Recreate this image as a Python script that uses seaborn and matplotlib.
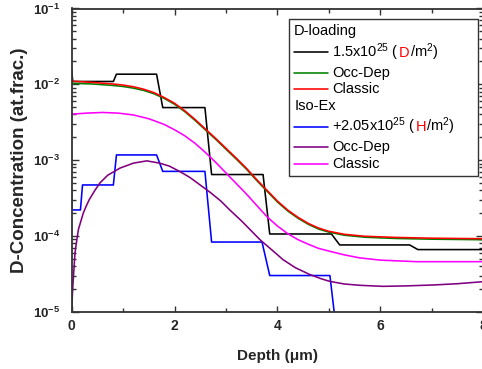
import numpy as np
import pandas as pd
import matplotlib
matplotlib.use("Agg")
import matplotlib.pyplot as plt
import seaborn as sns
from matplotlib.ticker import FixedLocator, LogLocator, NullFormatter, FixedFormatter
from matplotlib.offsetbox import AnchoredOffsetbox, VPacker, HPacker, TextArea, DrawingArea
from matplotlib.lines import Line2D

# ---------------- data ----------------
black_x = [0.0, 0.02, 0.81, 0.87, 1.65, 1.77, 2.59, 2.72, 3.72, 3.85, 5.05, 5.21, 6.57, 6.73, 8.0]
black_y = [1.55e-2, 1.09e-2, 1.09e-2, 1.36e-2, 1.36e-2, 4.93e-3, 4.93e-3, 6.45e-4, 6.45e-4,
           1.06e-4, 1.06e-4, 7.6e-5, 7.6e-5, 6.6e-5, 6.6e-5]

curve_x = [0.0, 0.4, 0.8, 1.0, 1.2, 1.4, 1.6, 1.8, 2.0, 2.2, 2.4, 2.6, 2.8, 3.0, 3.2, 3.4,
           3.6, 3.8, 4.0, 4.2, 4.4, 4.6, 4.8, 5.0, 5.3, 5.7, 6.3, 7.0, 8.0]
red_y = [1.10e-2, 1.06e-2, 1.01e-2, 9.77e-3, 9.29e-3, 8.61e-3, 7.76e-3, 6.68e-3, 5.62e-3,
         4.47e-3, 3.43e-3, 2.57e-3, 1.93e-3, 1.43e-3, 1.06e-3, 7.76e-4, 5.50e-4, 3.98e-4,
         2.88e-4, 2.19e-4, 1.76e-4, 1.46e-4, 1.27e-4, 1.15e-4, 1.05e-4, 9.89e-5, 9.55e-5,
         9.33e-5, 9.18e-5]
green_y = [1.03e-2, 1.01e-2, 9.65e-3, 9.35e-3, 8.9e-3, 8.3e-3, 7.5e-3, 6.5e-3, 5.45e-3,
           4.35e-3, 3.33e-3, 2.5e-3, 1.88e-3, 1.39e-3, 1.03e-3, 7.55e-4, 5.35e-4, 3.87e-4,
           2.8e-4, 2.13e-4, 1.71e-4, 1.42e-4, 1.23e-4, 1.12e-4, 1.02e-4, 9.6e-5, 9.25e-5,
           9.05e-5, 8.9e-5]

blue_x = [0.0, 0.0, 0.17, 0.21, 0.81, 0.87, 1.65, 1.77, 2.59, 2.72, 3.70, 3.85, 5.02, 5.11]
blue_y = [3.9e-4, 2.2e-4, 2.2e-4, 4.7e-4, 4.7e-4, 1.17e-3, 1.17e-3, 7.1e-4, 7.1e-4, 8.3e-5,
          8.3e-5, 3.0e-5, 3.0e-5, 9.0e-6]

purple_x = [0.0, 0.015, 0.03, 0.064, 0.1, 0.13, 0.18, 0.225, 0.28, 0.34, 0.45, 0.55, 0.7,
            0.94, 1.2, 1.46, 1.71, 1.9, 2.1, 2.3, 2.5, 2.7, 2.9, 3.07, 3.3, 3.5, 3.66, 3.9,
            4.11, 4.35, 4.63, 4.85, 5.02, 5.3, 5.6, 6.05, 6.5, 7.02, 7.5, 8.0]
purple_y = [1.0e-5, 1.78e-5, 2.65e-5, 5.96e-5, 8.91e-5, 1.21e-4, 1.58e-4, 2.0e-4, 2.45e-4,
            3.0e-4, 3.98e-4, 5.01e-4, 6.31e-4, 7.85e-4, 9.12e-4, 9.77e-4, 9.12e-4, 8.32e-4,
            7.08e-4, 5.89e-4, 4.68e-4, 3.72e-4, 2.88e-4, 2.21e-4, 1.58e-4, 1.15e-4, 8.91e-5,
            6.46e-5, 4.85e-5, 3.80e-5, 3.09e-5, 2.72e-5, 2.51e-5, 2.32e-5, 2.23e-5, 2.16e-5,
            2.19e-5, 2.25e-5, 2.34e-5, 2.49e-5]

magenta_x = [0.0, 0.3, 0.6, 0.9, 1.2, 1.5, 1.8, 2.0, 2.2, 2.4, 2.6, 2.8, 3.0, 3.2, 3.4, 3.6,
             3.8, 4.0, 4.2, 4.4, 4.6, 4.8, 5.0, 5.3, 5.6, 6.0, 6.7, 8.0]
magenta_y = [4.04e-3, 4.17e-3, 4.25e-3, 4.17e-3, 3.94e-3, 3.51e-3, 2.95e-3, 2.51e-3, 2.09e-3,
             1.66e-3, 1.26e-3, 9.33e-4, 6.76e-4, 4.90e-4, 3.55e-4, 2.51e-4, 1.78e-4, 1.35e-4,
             1.07e-4, 8.91e-5, 7.76e-5, 6.84e-5, 6.31e-5, 5.62e-5, 5.13e-5, 4.79e-5, 4.57e-5,
             4.57e-5]

x_ticks = [0, 2, 4, 6, 8]
x_ticklabels = ["0", "2", "4", "6", "8"]
y_ticks = [1e-5, 1e-4, 1e-3, 1e-2, 1e-1]
y_ticklabels = [r"$\mathbf{10^{-5}}$", r"$\mathbf{10^{-4}}$", r"$\mathbf{10^{-3}}$",
                r"$\mathbf{10^{-2}}$", r"$\mathbf{10^{-1}}$"]

# ---------------- style ----------------
sns.set_theme(style="ticks")
plt.rcParams["font.family"] = ["Liberation Sans", "DejaVu Sans"]
plt.rcParams["mathtext.fontset"] = "custom"
plt.rcParams["mathtext.rm"] = "Liberation Sans"
plt.rcParams["mathtext.it"] = "Liberation Sans:italic"
plt.rcParams["mathtext.bf"] = "Liberation Sans:bold"

W, H = 482, 369
fig = plt.figure(figsize=(W / 100, H / 100), dpi=100)
fig.patch.set_facecolor("white")
ax_l, ax_r, ax_t, ax_b = 71.7, 483.2, 8.5, 311.7
ax = fig.add_axes([ax_l / W, (H - ax_b) / H, (ax_r - ax_l) / W, (ax_b - ax_t) / H])
ax.set_facecolor("white")

lw = 1.15
series = [
    (black_x, black_y, "black"),
    (curve_x, green_y, "#008000"),
    (curve_x, red_y, "#ff0000"),
    (blue_x, blue_y, "#0000ff"),
    (purple_x, purple_y, "#800080"),
    (magenta_x, magenta_y, "#ff00ff"),
]
for xs, ys, c in series:
    df = pd.DataFrame({"x": xs, "y": ys})
    sns.lineplot(data=df, x="x", y="y", ax=ax, color=c, lw=lw, sort=False,
                 estimator=None, legend=False)

ax.set_yscale("log")
ax.set_xlim(0, 8)
ax.set_ylim(1e-5, 1e-1)

ax.xaxis.set_major_locator(FixedLocator(x_ticks))
ax.xaxis.set_major_formatter(FixedFormatter(x_ticklabels))
ax.xaxis.set_minor_locator(FixedLocator([1, 3, 5, 7]))
ax.yaxis.set_major_locator(FixedLocator(y_ticks))
ax.yaxis.set_major_formatter(FixedFormatter(y_ticklabels))
ax.yaxis.set_minor_locator(LogLocator(base=10, subs=np.arange(2, 10)))
ax.yaxis.set_minor_formatter(NullFormatter())

ax.tick_params(axis="both", which="both", direction="in", top=True, right=True,
               color="#333333", width=1.0)
ax.tick_params(axis="x", which="major", length=4)
ax.tick_params(axis="y", which="major", length=5)
ax.tick_params(axis="both", which="minor", length=3)
ax.tick_params(axis="x", which="major", pad=5.5, labelsize=10)
ax.tick_params(axis="y", which="major", pad=8.5, labelsize=9.5)
for t in ax.get_xticklabels():
    t.set_fontweight("bold")

for s in ax.spines.values():
    s.set_color("#333333")
    s.set_linewidth(1.3)

ax.set_xlabel("Depth (μm)", fontsize=11, fontweight="bold")
ax.set_ylabel("D-Concentration (at.frac.)", fontsize=13.5, fontweight="bold")
ax.xaxis.set_label_coords(0.5, -(349 - ax_b) / (ax_b - ax_t))
ax.yaxis.set_label_coords(-(ax_l - 28.5) / (ax_r - ax_l), 0.5)

# ---------------- legend (custom, to allow coloured letters) ----------------
fs = 10.5
def handle(color):
    da = DrawingArea(24.5, 8, 0, 0)
    da.add_artist(Line2D([0, 24.5], [4, 4], color=color, lw=lw))
    return da

def txt(s, color="black"):
    return TextArea(s, textprops=dict(fontsize=fs, color=color))

def row(color, pieces):
    text = HPacker(children=[txt(s, c) for s, c in pieces], sep=0, pad=0, align="baseline")
    return HPacker(children=[handle(color), text], sep=3, pad=0, align="center")

rows = [
    txt("D-loading"),
    row("black", [(r"1.5x10$^{25}$ (", "black"), ("D", "#ff0000"), (r"/m$^{2}$)", "black")]),
    row("#008000", [("Occ-Dep", "black")]),
    row("#ff0000", [("Classic", "black")]),
    txt("Iso-Ex"),
    row("#0000ff", [(r"+2.05x10$^{25}$ (", "black"), ("H", "#ff0000"), (r"/m$^{2}$)", "black")]),
    row("#800080", [("Occ-Dep", "black")]),
    row("#ff00ff", [("Classic", "black")]),
]
box = VPacker(children=rows, sep=2.0, pad=0, align="left", width=178.5)
anch = AnchoredOffsetbox(loc="upper right", child=box, pad=0.35, borderpad=0,
                         frameon=True, bbox_to_anchor=(478 / W, (H - 19) / H),
                         bbox_transform=fig.transFigure)
anch.patch.set_edgecolor("#333333")
anch.patch.set_linewidth(1.0)
anch.patch.set_boxstyle("square", pad=0)
ax.add_artist(anch)

fig.savefig("out.png", dpi=100, facecolor="white")
